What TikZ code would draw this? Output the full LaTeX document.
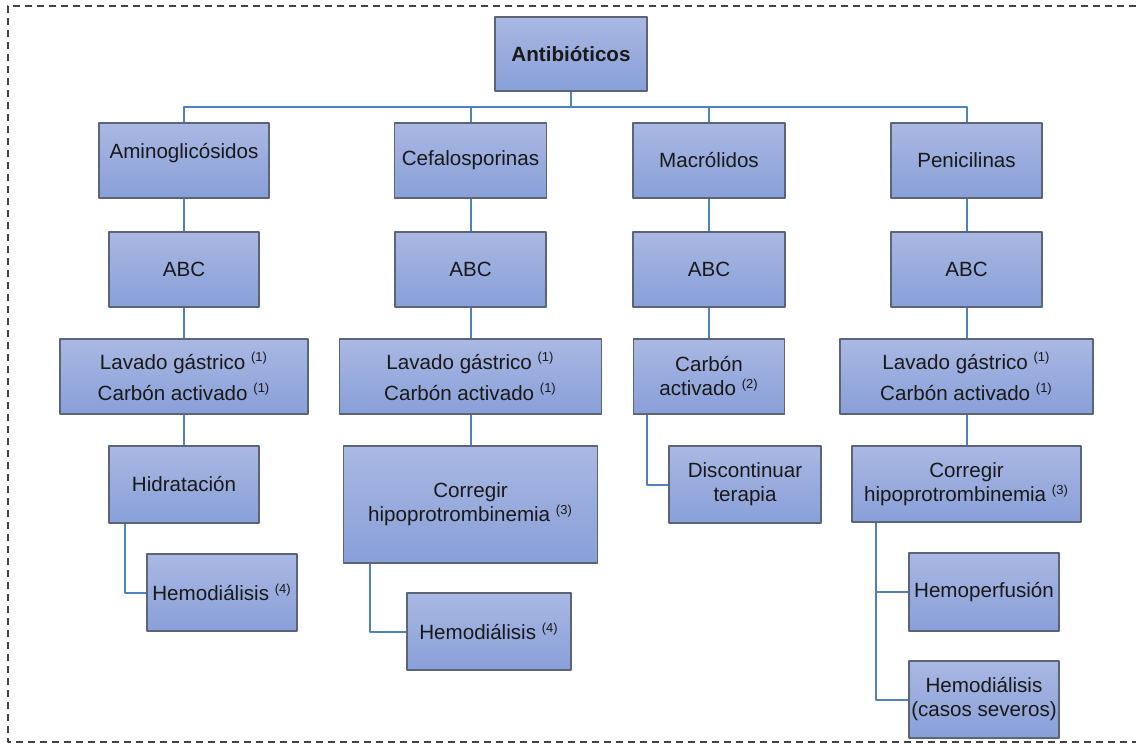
\documentclass[tikz,border=0pt]{standalone}
\usepackage{fontspec}
\setmainfont{Liberation Sans}
\definecolor{linea}{RGB}{79,129,189}
\definecolor{borde}{RGB}{92,100,120}
\definecolor{arriba}{RGB}{170,184,227}
\definecolor{abajo}{RGB}{136,159,216}
\definecolor{texto}{RGB}{25,25,25}
\newcommand{\nota}[1]{\textsuperscript{\fontsize{6.5}{6.5}\selectfont(#1)}}
\begin{document}
\begin{tikzpicture}[x=0.5pt, y=-0.5pt, font=\fontsize{10.3}{12}\selectfont, line join=round,
		caja/.style={draw=borde, line width=0.6pt, top color=arriba, bottom color=abajo, text=texto, align=center, inner sep=0pt},
		rama/.style={draw=linea, line width=1pt},
		marco/.style={draw=black!75, line width=0.6pt, dash pattern=on 3.5pt off 2.5pt}]
			\useasboundingbox (0,0) rectangle (1136,744);
			\draw[marco] (1136,6) -| (8,742) -- (1136,742);
			% Nivel 0 y 1
			\node[caja, minimum width=76pt, minimum height=37pt, font=\fontsize{10.3}{12}\selectfont\bfseries] (anti) at (571,54) {Antibióticos};
			\node[caja, minimum width=85pt, minimum height=37.5pt] (amino) at (184,160.5) {\raisebox{3.5pt}[\height][\depth]{Aminoglicósidos}};
			\node[caja, minimum width=76pt, minimum height=37.5pt] (cefa) at (470.5,160.5) {Cefalosporinas};
			\node[caja, minimum width=76pt, minimum height=37.5pt] (macro) at (709,160.5) {Macrólidos};
			\node[caja, minimum width=75.5pt, minimum height=37.5pt] (peni) at (966.5,160.5) {Penicilinas};
			\coordinate (bus) at (571,107);
			\draw[rama] (anti) -- (bus);
			\draw[rama] (bus) -| (amino) (bus) -| (cefa) (bus) -| (macro) (bus) -| (peni);
			% Nivel 2
			\node[caja, minimum width=75pt, minimum height=37.5pt] (abcA) at (184,269.5) {ABC};
			\node[caja, minimum width=75.5pt, minimum height=37.5pt] (abcB) at (470.5,269.5) {ABC};
			\node[caja, minimum width=76pt, minimum height=37.5pt] (abcC) at (709,269.5) {ABC};
			\node[caja, minimum width=75.5pt, minimum height=37.5pt] (abcD) at (966.5,269.5) {ABC};
			\draw[rama] (amino)--(abcA) (cefa)--(abcB) (macro)--(abcC) (peni)--(abcD);
			% Nivel 3
			\node[caja, minimum width=124pt, minimum height=37.5pt] (lavA) at (184,376.5) {Lavado gástrico \nota{1}\\[3.5pt]Carbón activado \nota{1}};
			\node[caja, minimum width=131pt, minimum height=37.5pt] (lavB) at (470.5,376.5) {Lavado gástrico \nota{1}\\[3.5pt]Carbón activado \nota{1}};
			\node[caja, minimum width=75.5pt, minimum height=37.5pt] (carC) at (709,376.5) {Carbón\\activado \nota{2}};
			\node[caja, minimum width=126.5pt, minimum height=37.5pt] (lavD) at (966.5,376.5) {Lavado gástrico \nota{1}\\[3.5pt]Carbón activado \nota{1}};
			\draw[rama] (abcA)--(lavA) (abcB)--(lavB) (abcC)--(carC) (abcD)--(lavD);
			% Nivel 4
			\node[caja, minimum width=75pt, minimum height=38.5pt] (hidA) at (184,484.5) {Hidratación};
			\node[caja, minimum width=127pt, minimum height=58.5pt] (corB) at (470.5,504.5) {Corregir\\hipoprotrombinemia \nota{3}};
			\node[caja, minimum width=76pt, minimum height=38.5pt] (disC) at (745,484.5) {Discontinuar\\terapia};
			\node[caja, minimum width=114.5pt, minimum height=38pt] (corD) at (966.5,484) {Corregir\\hipoprotrombinemia \nota{3}};
			\draw[rama] (lavA)--(hidA) (lavB)--(corB) (lavD)--(corD);
			\draw[rama] ([xshift=7.25pt]carC.south west) |- (disC);
			% Nivel 5
			\node[caja, minimum width=75pt, minimum height=38.5pt] (hemA) at (222,592.5) {Hemodiálisis \nota{4}};
			\node[caja, minimum width=82pt, minimum height=38.5pt] (hemB) at (489,631.5) {Hemodiálisis \nota{4}};
			\node[caja, minimum width=75pt, minimum height=39pt] (perD) at (984,592) {Hemoperfusión};
			\node[caja, minimum width=75pt, minimum height=38.5pt] (casD) at (984,699.5) {Hemodiálisis\\(casos severos)};
			\draw[rama] ([xshift=8.5pt]hidA.south west) |- (hemA);
			\draw[rama] ([xshift=13.75pt]corB.south west) |- (hemB);
			\draw[rama] ([xshift=12.5pt]corD.south west) |- (perD);
			\draw[rama] ([xshift=12.5pt]corD.south west) |- (casD);
		\end{tikzpicture}
\end{document}
